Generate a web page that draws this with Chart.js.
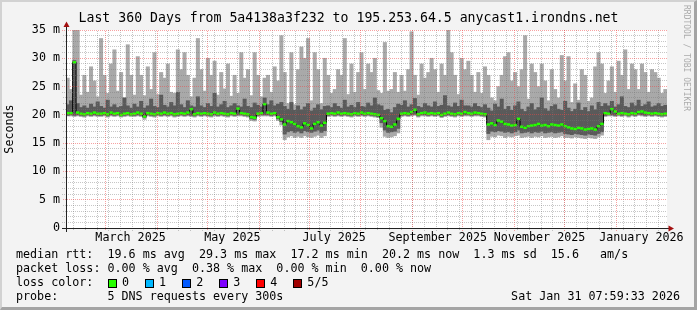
<!DOCTYPE html>
<html><head><meta charset="utf-8">
<script src="https://cdn.jsdelivr.net/npm/chart.js@4.4.1/dist/chart.umd.min.js"></script>
<style>
html,body{margin:0;padding:0;background:#f3f3f3;}
#wrap{position:relative;width:697px;height:310px;overflow:hidden;background:#f3f3f3;}
#c{position:absolute;left:0;top:0;}
.t{position:absolute;font-family:'DejaVu Sans Mono',monospace;font-size:11.7px;line-height:14px;color:#000;white-space:pre;}
.box{position:absolute;width:7px;height:7px;border:1px solid #000;}
#frame{position:absolute;left:0;top:0;width:697px;height:310px;box-sizing:border-box;border-top:2px solid #d2d2d2;border-left:2px solid #d2d2d2;border-right:3px solid #a4a4a4;border-bottom:3px solid #a4a4a4;pointer-events:none;}
#wm{position:absolute;left:681px;top:5px;writing-mode:vertical-rl;font-family:'DejaVu Sans Mono',monospace;font-size:8px;line-height:10px;color:#ababab;white-space:pre;}
</style></head><body>
<div id="wrap">
<canvas id="c" width="697" height="310"></canvas>
<div id="legend"></div>
<div id="wm">RRDTOOL / TOBI OETIKER</div>
<div id="frame"></div>
</div>
<script>
// ---------- data (ms), one value per 2-day step, 180 steps over 360 days ----------
const titleText = 'Last 360 Days from 5a4138a3f232 to 195.253.64.5 anycast1.irondns.net';
const stepDays = 2;
const hi = [26.5,24.5,35,35,23.5,27,24,28.5,26,23.2,
 33.5,27,23.8,29,31.5,24.2,27.5,23,32.4,27,
 23.5,30.3,27,23.4,28.5,24.5,31,23.6,27.5,26.5,
 29,24,23.8,31.5,28,31,27,23.2,26.5,33.5,
 28,24.2,30,27,29.5,23.5,27.5,24.6,29,23.3,
 27,23.8,31,26.5,28,23.4,31,27,23.2,26.5,
 27,24,28.5,26,34,27.5,22,31,21.8,28,
 32,30,33.5,22.5,31,28,22,30,27,23.8,
 24.5,28,27,33.5,23.6,29,24,27.5,31,24.5,
 29,27.5,30,24.3,23.8,32.8,24.2,24.5,27.5,24,
 27,24.2,28,34.7,27,23.5,29,26.5,27.5,30,
 28,24,29,27,35,31,27,23.6,30,28,
 29.5,27,24,27.5,23.8,28.5,27,23,22.5,25,
 27,30.3,31,26,27.5,25,28,34,22.8,29,
 27.5,25,29,26,22.5,28,24.5,23,30.5,26,
 30.3,22.2,25.5,22.6,28,27,22.4,23,28.5,31,
 29,23.8,26,28.5,24,29.5,27,31.5,24.5,29,
 28,24.5,29,27.5,24,28,27.5,26.5,23.8,24.5];
const darkHi = [21.8,22.5,29.6,22.0,21.3,21.6,21.2,21.9,21.4,22.3,
 21.5,21.2,22.6,21.4,21.8,21.3,21.5,23.0,21.6,21.2,
 21.9,21.4,22.4,21.2,21.6,22.8,21.5,21.3,23.5,21.7,
 21.4,22.2,21.6,24.0,21.8,21.3,22.5,21.6,21.4,23.2,
 21.6,21.3,22.0,21.5,23.8,21.4,21.8,22.4,21.3,21.6,
 22.0,21.6,21.4,22.8,21.5,21.3,22.1,21.7,21.4,23.0,
 21.8,22.5,21.6,21.9,22.2,21.5,21.0,22.2,20.8,21.6,
 20.9,21.4,22.0,20.7,21.2,21.8,20.9,21.5,21.6,21.3,
 22.0,21.5,21.2,22.6,21.4,21.7,21.3,22.2,21.5,21.4,
 22.1,21.6,23.0,21.8,21.6,20.8,21.0,20.4,21.3,21.9,
 21.7,22.5,21.4,21.8,22.9,21.5,21.3,22.0,21.6,21.4,
 22.3,21.5,21.7,23.4,21.6,21.4,22.1,21.5,22.6,21.6,
 21.6,21.4,22.0,21.5,21.3,21.8,21.2,20.7,21.9,21.4,
 22.8,21.0,21.5,20.8,21.6,22.3,21.0,20.6,21.4,22.0,
 20.9,21.3,23.0,21.1,20.7,21.5,21.8,21.0,20.8,22.4,
 21.2,20.6,21.0,22.1,20.8,21.3,20.6,21.6,20.9,22.2,
 21.5,22.0,21.6,22.4,21.4,21.8,23.2,21.5,21.3,22.1,
 21.6,22.6,21.5,21.8,22.3,21.4,21.6,22.0,21.5,21.7];
const median = [20.3,20.3,29.3,20.4,20.2,20.1,20.3,20.2,20.4,20.2,
 20.2,20.3,20.1,20.4,20.2,20.3,20.0,20.2,20.3,20.1,
 20.2,20.4,20.2,19.7,20.3,20.2,20.1,20.3,20.2,20.4,
 20.2,20.3,20.1,20.2,20.3,20.2,20.4,21.0,20.1,20.3,
 20.2,20.3,20.2,20.1,20.4,20.2,20.3,20.2,20.1,20.3,
 20.2,21.1,20.3,20.2,20.1,19.6,19.5,20.2,20.3,21.9,
 20.4,20.2,20.3,19.6,19.2,18.3,18.9,18.7,18.4,18.0,
 17.8,18.5,18.2,17.6,18.4,18.7,18.1,18.6,20.2,20.3,
 20.2,20.4,20.2,20.3,20.2,20.1,20.3,20.2,20.4,20.2,
 20.3,20.2,20.1,20.0,19.4,18.9,18.0,17.9,18.3,19.3,
 20.2,20.3,20.2,20.5,20.9,20.1,20.3,20.4,20.2,20.3,
 20.2,20.3,20.0,20.2,20.4,20.2,20.1,20.3,20.2,20.5,
 20.3,20.2,20.4,20.3,20.2,20.1,18.3,18.5,18.2,19.0,
 18.8,18.4,18.3,18.1,18.2,19.3,17.9,17.7,18.0,18.1,
 18.2,18.4,18.1,18.2,18.0,18.3,18.2,18.1,18.3,18.0,
 17.8,17.6,17.5,17.7,17.6,17.4,17.5,17.6,17.4,18.0,
 18.4,20.3,20.2,21.0,20.6,20.2,20.3,20.2,20.1,20.3,
 20.2,20.5,20.6,20.4,20.3,20.2,20.3,20.2,20.1,20.2];
const darkLo = [19.9,20.0,19.9,20.0,19.9,19.8,20.0,19.9,20.0,19.9,
 19.9,20.0,19.8,20.0,19.9,20.0,19.8,19.9,20.0,19.9,
 19.9,20.0,19.9,19.5,20.0,19.9,19.8,20.0,19.9,20.0,
 19.9,20.0,19.8,19.9,20.0,19.9,20.0,19.9,19.8,20.0,
 19.9,20.0,19.9,19.8,20.0,19.9,20.0,19.9,19.8,20.0,
 19.9,20.0,20.0,19.9,19.8,19.3,19.2,19.9,20.0,20.0,
 20.0,19.9,20.0,19.3,18.8,16.6,17.0,17.2,16.9,17.1,
 16.8,17.2,17.0,16.9,17.1,17.3,16.9,17.2,19.9,20.0,
 19.9,20.0,19.9,20.0,19.9,19.8,20.0,19.9,20.0,19.9,
 20.0,19.9,19.8,19.7,18.6,17.3,16.9,17.0,17.1,17.6,
 19.9,20.0,19.9,20.0,20.1,19.8,20.0,20.0,19.9,20.0,
 19.9,20.0,19.7,19.9,20.0,19.9,19.8,20.0,19.9,20.0,
 20.0,19.9,20.0,20.0,19.9,19.8,16.7,17.1,17.0,17.2,
 17.1,16.9,17.0,16.8,17.0,17.3,16.8,16.9,17.0,16.8,
 17.0,16.9,17.1,16.8,16.9,17.0,16.8,16.9,17.0,16.7,
 16.6,16.5,16.7,16.6,16.5,16.4,16.6,16.5,16.4,16.7,
 17.0,19.9,20.0,20.0,19.9,20.0,19.9,20.0,19.8,20.0,
 19.9,20.1,20.0,19.9,20.0,19.9,20.0,19.9,19.8,19.9];
const lo = [19.8,19.8,19.7,19.8,19.7,19.6,19.8,19.7,19.8,19.7,
 19.7,19.8,19.6,19.8,19.7,19.8,19.6,19.7,19.8,19.7,
 19.7,19.8,19.7,19.2,19.8,19.7,19.6,19.8,19.7,19.8,
 19.7,19.8,19.6,19.7,19.8,19.7,19.8,19.7,19.6,19.8,
 19.7,19.8,19.7,19.6,19.8,19.7,19.8,19.7,19.6,19.8,
 19.7,19.8,19.8,19.7,19.6,19.0,18.9,19.7,19.8,19.8,
 19.8,19.7,19.8,19.0,18.2,15.6,16.1,16.3,16.0,16.2,
 16.0,16.3,16.1,16.0,16.2,16.4,16.0,16.3,19.7,19.8,
 19.7,19.8,19.7,19.8,19.7,19.6,19.8,19.7,19.8,19.7,
 19.8,19.7,19.6,19.5,17.8,16.2,16.0,16.1,16.3,16.8,
 19.7,19.8,19.7,19.8,19.9,19.6,19.8,19.8,19.7,19.8,
 19.7,19.8,19.5,19.7,19.8,19.7,19.6,19.8,19.7,19.8,
 19.8,19.7,19.8,19.8,19.7,19.6,15.6,16.2,16.1,16.4,
 16.3,16.0,16.2,16.1,16.3,16.4,16.0,16.1,16.2,16.0,
 16.2,16.1,16.3,16.0,16.1,16.2,16.0,16.1,16.3,16.0,
 16.0,15.9,16.1,16.0,15.9,15.8,16.0,15.9,15.8,16.1,
 16.4,19.7,19.8,19.8,19.7,19.8,19.7,19.8,19.6,19.8,
 19.7,19.9,19.8,19.7,19.8,19.7,19.8,19.7,19.6,19.7];

// ---------- axes / labels ----------
const rangeStart = Date.UTC(2025, 1, 5, 7, 59, 33);
const rangeDays = 360;
const xLabels = ['March 2025','May 2025','July 2025','September 2025','November 2025','January 2026'];
const xLabelDates = ['2025-03-16','2025-05-16','2025-07-16','2025-09-16','2025-11-16','2026-01-16'];
const monthStarts = ['2025-03-01','2025-04-01','2025-05-01','2025-06-01','2025-07-01','2025-08-01','2025-09-01','2025-10-01','2025-11-01','2025-12-01','2026-01-01'];
const firstWeek = '2025-02-10';
const yTickLabels = ['0','5 m','10 m','15 m','20 m','25 m','30 m','35 m'];

const legendLines = [
  'median rtt:  19.6 ms avg  29.3 ms max  17.2 ms min  20.2 ms now  1.3 ms sd  15.6   am/s',
  'packet loss: 0.00 % avg  0.38 % max  0.00 % min  0.00 % now'
];
const lossLabels = ['0','1','2','3','4','5/5'];
const lossColors = ['#26ff00','#00b8ff','#0059ff','#7e00ff','#ff0000','#a00000'];
const probeText = 'probe:       5 DNS requests every 300s';
const stampText = 'Sat Jan 31 07:59:33 2026';

// ---------- helpers ----------
const dayOf = s => (Date.parse(s + 'T00:00:00Z') - rangeStart) / 86400000;
const xDays = hi.map((_, i) => i * stepDays + stepDays / 2);
const xLabelDays = xLabelDates.map(dayOf);
const monthDays = monthStarts.map(dayOf);
const weekDays = [];
for (let d = dayOf(firstWeek); d <= rangeDays; d += 7) weekDays.push(d);

const MONO = "'DejaVu Sans Mono', monospace";
Chart.defaults.font.family = MONO;
Chart.defaults.color = '#000';

// dotted grid: checkerboard pattern so a 1px line shows every other pixel
function dots(color) {
  const c = document.createElement('canvas'); c.width = 2; c.height = 2;
  const g = c.getContext('2d'); g.fillStyle = color;
  g.fillRect(0, 0, 1, 1); g.fillRect(1, 1, 1, 1);
  return g.createPattern(c, 'repeat');
}
const MAJ = dots('rgba(240,70,70,0.5)');
const MIN = dots('rgba(120,120,120,0.42)');

const framePlugin = {
  id: 'framePlugin',
  beforeDraw(chart) {
    const {ctx, chartArea: a} = chart;
    ctx.save(); ctx.fillStyle = '#fff';
    ctx.fillRect(a.left, a.top, a.right - a.left, a.bottom - a.top);
    ctx.restore();
  },
  afterDraw(chart) {
    const {ctx, chartArea: a} = chart;
    ctx.save();
    ctx.strokeStyle = '#222'; ctx.lineWidth = 1;
    ctx.beginPath(); ctx.moveTo(a.left + 0.5, a.bottom + 4); ctx.lineTo(a.left + 0.5, a.top - 5); ctx.stroke();
    ctx.beginPath(); ctx.moveTo(a.left - 4, a.bottom + 0.5); ctx.lineTo(a.right + 3, a.bottom + 0.5); ctx.stroke();
    ctx.fillStyle = '#a31010';
    ctx.beginPath(); ctx.moveTo(a.left + 0.5, a.top - 8.5); ctx.lineTo(a.left - 2.5, a.top - 3); ctx.lineTo(a.left + 3.5, a.top - 3); ctx.closePath(); ctx.fill();
    ctx.beginPath(); ctx.moveTo(a.right + 7, a.bottom + 0.5); ctx.lineTo(a.right + 1.5, a.bottom - 2.5); ctx.lineTo(a.right + 1.5, a.bottom + 3.5); ctx.closePath(); ctx.fill();
    ctx.restore();
  }
};

const gridAxis = (values, color, weight) => ({
  type: 'linear', position: 'bottom', min: 0, max: rangeDays, weight: weight, offset: false,
  afterBuildTicks: s => { s.ticks = values.map(v => ({value: v})); },
  afterFit: s => { s.height = 0; s.paddingLeft = 0; s.paddingRight = 0; },
  ticks: {display: false, autoSkip: false},
  border: {display: false},
  grid: {color: color, tickColor: color, tickLength: 3, lineWidth: 1, z: 1, offset: false}
});

new Chart(document.getElementById('c'), {
  type: 'bar',
  data: {
    datasets: [
      {type: 'line', label: 'median loss', data: xDays.map((x, i) => ({x, y: median[i]})), showLine: false,
       pointStyle: 'line', pointRadius: 1.75, pointHoverRadius: 1.75, pointBorderWidth: 2.5,
       pointBorderColor: lossColors[0], pointBackgroundColor: lossColors[0], order: 1},
      {type: 'line', label: 'median', data: xDays.map((x, i) => ({x, y: median[i]})), stepped: 'middle',
       borderColor: '#000', borderWidth: 1, pointRadius: 0, order: 2},
      {type: 'bar', label: 'inner smoke', data: xDays.map((x, i) => ({x, y: [darkLo[i], darkHi[i]]})),
       backgroundColor: '#5a5a5a', borderWidth: 0, barPercentage: 1, categoryPercentage: 1, grouped: false, order: 3},
      {type: 'bar', label: 'smoke', data: xDays.map((x, i) => ({x, y: [lo[i], hi[i]]})),
       backgroundColor: '#a9a9a9', borderWidth: 0, barPercentage: 1, categoryPercentage: 1, grouped: false, order: 4}
    ]
  },
  options: {
    responsive: false, animation: false, devicePixelRatio: 1,
    layout: {padding: {left: 0, right: 0, top: 0, bottom: 62}},
    plugins: {
      legend: {display: false}, tooltip: {enabled: false},
      title: {display: true, text: titleText, color: '#000',
              font: {family: MONO, size: 13.2, weight: 'normal', lineHeight: 1.2},
              padding: {top: 11, bottom: 3.16}}
    },
    scales: {
      x: {
        type: 'linear', position: 'bottom', min: 0, max: rangeDays, offset: false, weight: 5,
        afterBuildTicks: s => { s.ticks = xLabelDays.map(v => ({value: v})); },
        afterFit: s => { s.height = 20; s.paddingLeft = 0; s.paddingRight = 0; },
        ticks: {autoSkip: false, maxRotation: 0, minRotation: 0, padding: 3, color: '#000',
                font: {family: MONO, size: 11.7}, callback: (v, i) => xLabels[i]},
        grid: {display: false, drawTicks: false, offset: false},
        border: {display: false}
      },
      xw: gridAxis(weekDays, MIN, 0),
      xm: gridAxis(monthDays, MAJ, 1),
      y: {
        type: 'linear', position: 'left', min: 0, max: 35,
        afterFit: s => { s.width = 66; },
        ticks: {stepSize: 1, autoSkip: false, padding: 2, color: '#000', font: {family: MONO, size: 11.7},
                callback: v => (v % 5 === 0 ? yTickLabels[v / 5] : '')},
        grid: {z: 1, tickLength: 4, lineWidth: 1,
               color: c => (c.tick && c.tick.value % 5 === 0 ? MAJ : MIN),
               tickColor: c => (c.tick && c.tick.value % 5 === 0 ? MAJ : MIN)},
        border: {display: false},
        title: {display: true, text: 'Seconds', color: '#000', font: {family: MONO, size: 11.7},
                padding: {top: 3, bottom: 0}}
      },
      yr: {
        type: 'linear', position: 'right', min: 0, max: 35, display: true,
        afterFit: s => { s.width = 30; },
        ticks: {display: false}, grid: {display: false}, border: {display: false}
      }
    }
  },
  plugins: [framePlugin]
});

// ---------- legend text (HTML) ----------
const L = document.getElementById('legend');
function addText(txt, left, top, right) {
  const d = document.createElement('div'); d.className = 't'; d.textContent = txt;
  d.style.top = top + 'px';
  if (right !== undefined) d.style.right = right + 'px'; else d.style.left = left + 'px';
  L.appendChild(d);
}
addText(legendLines[0], 16, 247.3);
addText(legendLines[1], 16, 261.3);
addText('loss color:', 16, 275.3);
lossLabels.forEach((lab, k) => {
  const b = document.createElement('div'); b.className = 'box';
  b.style.left = (108 + 37.07 * k) + 'px'; b.style.top = '278.5px'; b.style.background = lossColors[k];
  L.appendChild(b);
  addText(lab, 122 + 37.07 * k, 275.3);
});
addText(probeText, 16, 289.3);
addText(stampText, 0, 289.3, 17);
</script>
</body></html>
